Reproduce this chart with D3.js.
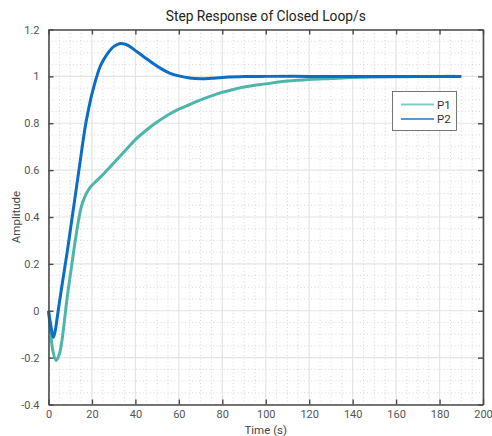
<!DOCTYPE html>
<html><head><meta charset="utf-8">
<script src="https://cdn.jsdelivr.net/npm/d3@7"></script>
<style>
body{margin:0;background:#fff;}
text{font-family:Roboto,"Noto Sans",sans-serif;}
</style></head>
<body><svg id="c" width="492" height="436"></svg>
<script>
const seriesNames = ["P1", "P2"];
const timeP1 = [0,1,2,3.5,5,6,7,8,9,10,11,12,13,14,15,16,18,20,22,24,26,28,30,33,36,40,45,50,55,60,65,70,75,80,90,100,110,120,130,140,150,160,170,180,190];
const valP1  = [0,-0.09,-0.17,-0.212,-0.185,-0.14,-0.07,0.012,0.085,0.15,0.215,0.28,0.34,0.395,0.44,0.47,0.51,0.535,0.553,0.571,0.59,0.61,0.63,0.66,0.69,0.73,0.77,0.805,0.835,0.86,0.88,0.9,0.917,0.932,0.955,0.968,0.98,0.987,0.991,0.995,0.997,0.998,0.999,1.0,1.0];
const timeP2 = [0,1,2.2,3,4,5,6,7,8,9,10,11,12,13,14,15,16,17,18,19,20,21,22,24,27,30,33,35,37,40,44,48,52,56,60,65,70,75,80,90,100,120,140,160,190];
const valP2  = [0,-0.06,-0.113,-0.09,-0.03,0.035,0.095,0.155,0.215,0.275,0.34,0.405,0.47,0.535,0.6,0.665,0.73,0.79,0.84,0.885,0.925,0.96,0.993,1.047,1.095,1.127,1.14,1.138,1.13,1.11,1.083,1.056,1.032,1.013,1.002,0.993,0.99,0.992,0.995,0.999,1.0,1.0,1.0,1.0,1.0];
const xTicks = [0,20,40,60,80,100,120,140,160,180,200];
const yTicks = [-0.4,-0.2,0,0.2,0.4,0.6,0.8,1,1.2];
const xMinor = d3.range(0,200.1,5);
const yMinor = d3.range(-0.4,1.2001,0.05);
const titleText = "Step Response of Closed Loop/s";
const xLabel = "Time (s)";
const yLabel = "Amplitude";
const colors = ["#4db5aa", "#0a6ec4"];
const legendColors = ["#7fcfc6", "#1f77c9"];

const svg = d3.select("#c");
const L=48.5, R=483, T=29.5, B=404.5;
const x = d3.scaleLinear().domain([0,200]).range([L,R]);
const y = d3.scaleLinear().domain([-0.4,1.2]).range([B,T]);

svg.append("rect").attr("width",492).attr("height",436).attr("fill","#fff");
const g = svg.append("g");
g.selectAll(".mx").data(xMinor.filter(v=>v%20!==0)).enter().append("line")
 .attr("x1",d=>x(d)).attr("x2",d=>x(d)).attr("y1",T).attr("y2",B)
 .attr("stroke","#cfcfcf").attr("stroke-width",0.8).attr("stroke-dasharray","1,2.5");
g.selectAll(".my").data(yMinor.filter(v=>Math.abs(Math.round(v*5)-v*5)>1e-6)).enter().append("line")
 .attr("y1",d=>y(d)).attr("y2",d=>y(d)).attr("x1",L).attr("x2",R)
 .attr("stroke","#cfcfcf").attr("stroke-width",0.8).attr("stroke-dasharray","1,2.5");
g.selectAll(".gx").data(xTicks).enter().append("line")
 .attr("x1",d=>x(d)).attr("x2",d=>x(d)).attr("y1",T).attr("y2",B)
 .attr("stroke","#e4e4e4").attr("stroke-width",1.2);
g.selectAll(".gy").data(yTicks).enter().append("line")
 .attr("y1",d=>y(d)).attr("y2",d=>y(d)).attr("x1",L).attr("x2",R)
 .attr("stroke","#e4e4e4").attr("stroke-width",1.2);

const line = d3.line().x(d=>x(d[0])).y(d=>y(d[1])).curve(d3.curveCatmullRom.alpha(0.5));
const dataP1 = timeP1.map((t,i)=>[t,valP1[i]]);
const dataP2 = timeP2.map((t,i)=>[t,valP2[i]]);
svg.append("path").attr("d",line(dataP1)).attr("fill","none").attr("stroke",colors[0]).attr("stroke-width",3).attr("stroke-linejoin","round");
svg.append("path").attr("d",line(dataP2)).attr("fill","none").attr("stroke",colors[1]).attr("stroke-width",3).attr("stroke-linejoin","round");

const fmt = d=>String(+d.toFixed(1));
const axB = svg.append("g").attr("transform",`translate(0,${B})`)
 .call(d3.axisBottom(x).tickValues(xTicks).tickSizeInner(-5).tickSizeOuter(0).tickPadding(6).tickFormat(fmt));
const axT = svg.append("g").attr("transform",`translate(0,${T})`)
 .call(d3.axisTop(x).tickValues(xTicks).tickSizeInner(-5).tickSizeOuter(0).tickFormat(""));
const axL = svg.append("g").attr("transform",`translate(${L},0)`)
 .call(d3.axisLeft(y).tickValues(yTicks).tickSizeInner(-5).tickSizeOuter(0).tickPadding(9).tickFormat(fmt));
const axR = svg.append("g").attr("transform",`translate(${R},0)`)
 .call(d3.axisRight(y).tickValues(yTicks).tickSizeInner(-5).tickSizeOuter(0).tickFormat(""));
[axB,axT,axL,axR].forEach(a=>{
  a.select(".domain").attr("stroke","#4a4a4a").attr("stroke-width",1.6);
  a.selectAll(".tick line").attr("stroke","#4a4a4a").attr("stroke-width",1.4);
  a.selectAll("text").attr("fill","#555").attr("font-size",11);
});
axB.selectAll(".tick text").attr("dy","0.72em");

const lg = svg.append("g");
lg.append("rect").attr("x",392.5).attr("y",91.5).attr("width",64).attr("height",39)
 .attr("fill","#fff").attr("stroke","#555").attr("stroke-width",0.8);
seriesNames.forEach((n,i)=>{
  const yy = 104.5 + i*14.5;
  lg.append("line").attr("x1",401).attr("x2",434).attr("y1",yy).attr("y2",yy)
   .attr("stroke",legendColors[i]).attr("stroke-width",i===0?2:1.6);
  lg.append("text").attr("x",437).attr("y",yy+4).attr("font-size",11.5).attr("fill","#333").text(n);
});

svg.append("text").attr("x",(L+R)/2).attr("y",21).attr("text-anchor","middle")
 .attr("font-size",14).attr("fill","#222").attr("textLength",200).attr("lengthAdjust","spacingAndGlyphs").text(titleText);
svg.append("text").attr("x",(L+R)/2).attr("y",434).attr("text-anchor","middle")
 .attr("font-size",11.5).attr("fill","#444").text(xLabel);
svg.append("text").attr("transform",`translate(20,${(T+B)/2}) rotate(-90)`).attr("text-anchor","middle")
 .attr("font-size",11.5).attr("fill","#444").text(yLabel);
</script></body></html>
